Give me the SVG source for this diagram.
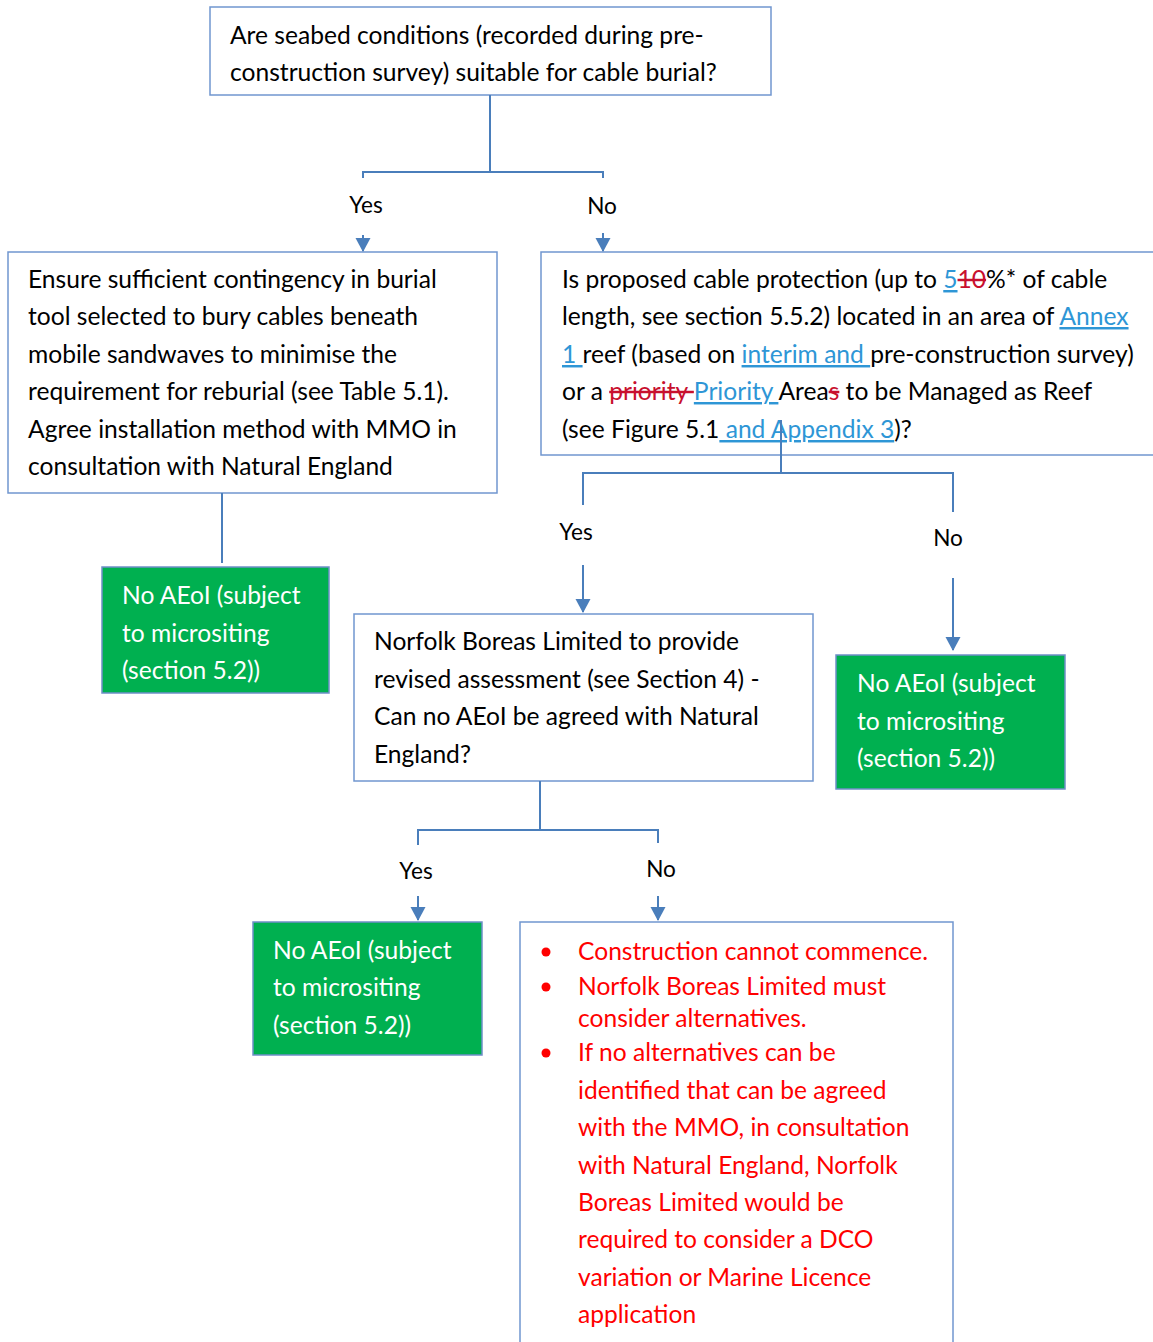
<svg xmlns="http://www.w3.org/2000/svg" width="1153" height="1342" viewBox="0 0 1153 1342">
<defs>
<marker id="arr" markerWidth="14" markerHeight="16" refX="13" refY="8" orient="auto" markerUnits="userSpaceOnUse">
<path d="M0,0.5 L14,8 L0,15.5 Z" fill="#4A7EBB"/>
</marker>
<style>
.box{fill:#fff;stroke:#7096CF;stroke-width:1.5}
.green{fill:#00B050;stroke:#6F8FC8;stroke-width:1.5}
.c{fill:none;stroke:#4A7EBB;stroke-width:2}
.t{font-family:Lato,"Liberation Sans",sans-serif;font-size:24.6px;fill:#000}
.w{fill:#fff}
.r{fill:#FF0000}
.lbl{font-family:Lato,"Liberation Sans",sans-serif;font-size:22.6px;fill:#000;text-anchor:middle}
.ins{fill:#2E96D6;text-decoration:underline}
.del{fill:#C8102E;text-decoration:line-through}
</style>
</defs>
<rect width="1153" height="1342" fill="#fff"/>

<g id="q1">
<rect class="box" x="210" y="7" width="561" height="88"/>
<text class="t" x="230" y="44">Are seabed conditions (recorded during pre-</text>
<text class="t" x="230" y="81">construction survey) suitable for cable burial?</text>
</g>

<g id="burial">
<rect class="box" x="8" y="252" width="489" height="241"/>
<text class="t" x="28" y="288">Ensure sufficient contingency in burial</text>
<text class="t" x="28" y="325">tool selected to bury cables beneath</text>
<text class="t" x="28" y="363">mobile sandwaves to minimise the</text>
<text class="t" x="28" y="400">requirement for reburial (see Table 5.1).</text>
<text class="t" x="28" y="438">Agree installation method with MMO in</text>
<text class="t" x="28" y="475">consultation with Natural England</text>
</g>

<g id="noaeoi1">
<rect class="green" x="102" y="567" width="227" height="126"/>
<text class="t w" x="122" y="604">No AEoI (subject</text>
<text class="t w" x="122" y="642">to micrositing</text>
<text class="t w" x="122" y="679">(section 5.2))</text>
</g>

<g id="q2">
<rect class="box" x="541" y="252" width="620" height="203"/>
<text class="t" x="562" y="288">Is proposed cable protection (up to <tspan class="ins">5</tspan><tspan class="del">10</tspan>%* of cable</text>
<text class="t" x="562" y="325">length, see section 5.5.2) located in an area of <tspan class="ins">Annex</tspan></text>
<text class="t" x="562" y="363"><tspan class="ins">1 </tspan>reef (based on <tspan class="ins">interim and </tspan>pre-construction survey)</text>
<text class="t" x="562" y="400">or a <tspan class="del">priority </tspan><tspan class="ins">Priority </tspan>Area<tspan class="del">s</tspan> to be Managed as Reef</text>
<text class="t" x="562" y="438">(see Figure 5.1<tspan class="ins"> and Appendix 3</tspan>)?</text>
</g>

<g id="revised">
<rect class="box" x="354" y="614" width="459" height="167"/>
<text class="t" x="374" y="650">Norfolk Boreas Limited to provide</text>
<text class="t" x="374" y="688">revised assessment (see Section 4) -</text>
<text class="t" x="374" y="725">Can no AEoI be agreed with Natural</text>
<text class="t" x="374" y="763">England?</text>
</g>

<g id="noaeoi2">
<rect class="green" x="836" y="655" width="229" height="134"/>
<text class="t w" x="857" y="692">No AEoI (subject</text>
<text class="t w" x="857" y="730">to micrositing</text>
<text class="t w" x="857" y="767">(section 5.2))</text>
</g>

<g id="noaeoi3">
<rect class="green" x="253" y="922" width="229" height="133"/>
<text class="t w" x="273" y="959">No AEoI (subject</text>
<text class="t w" x="273" y="996">to micrositing</text>
<text class="t w" x="273" y="1034">(section 5.2))</text>
</g>

<g id="stop">
<rect class="box" x="520" y="922" width="433" height="430"/>
<circle cx="546" cy="952" r="4.5" fill="#FF0000"/>
<circle cx="546" cy="987" r="4.5" fill="#FF0000"/>
<circle cx="546" cy="1053" r="4.5" fill="#FF0000"/>
<text class="t r" x="578" y="960">Construction cannot commence.</text>
<text class="t r" x="578" y="995">Norfolk Boreas Limited must</text>
<text class="t r" x="578" y="1027">consider alternatives.</text>
<text class="t r" x="578" y="1061">If no alternatives can be</text>
<text class="t r" x="578" y="1099">identified that can be agreed</text>
<text class="t r" x="578" y="1136">with the MMO, in consultation</text>
<text class="t r" x="578" y="1174">with Natural England, Norfolk</text>
<text class="t r" x="578" y="1211">Boreas Limited would be</text>
<text class="t r" x="578" y="1248">required to consider a DCO</text>
<text class="t r" x="578" y="1286">variation or Marine Licence</text>
<text class="t r" x="578" y="1323">application</text>
</g>

<g id="connectors">
<path class="c" d="M490,95 V172 M363,178 V172 H603 V178"/>
<path class="c" d="M363,235 V251" marker-end="url(#arr)"/>
<path class="c" d="M603,233 V251" marker-end="url(#arr)"/>
<path class="c" d="M222,493 V563"/>
<path class="c" d="M781,420 V473 M583,505 V473 H953 V512"/>
<path class="c" d="M583,565 V612" marker-end="url(#arr)"/>
<path class="c" d="M953,578 V650" marker-end="url(#arr)"/>
<path class="c" d="M540,781 V830 M418,845 V830 H658 V843"/>
<path class="c" d="M418,896 V920" marker-end="url(#arr)"/>
<path class="c" d="M658,896 V920" marker-end="url(#arr)"/>
<text class="lbl" x="366" y="213">Yes</text>
<text class="lbl" x="602" y="214">No</text>
<text class="lbl" x="576" y="540">Yes</text>
<text class="lbl" x="948" y="546">No</text>
<text class="lbl" x="416" y="879">Yes</text>
<text class="lbl" x="661" y="877">No</text>
</g>
</svg>
